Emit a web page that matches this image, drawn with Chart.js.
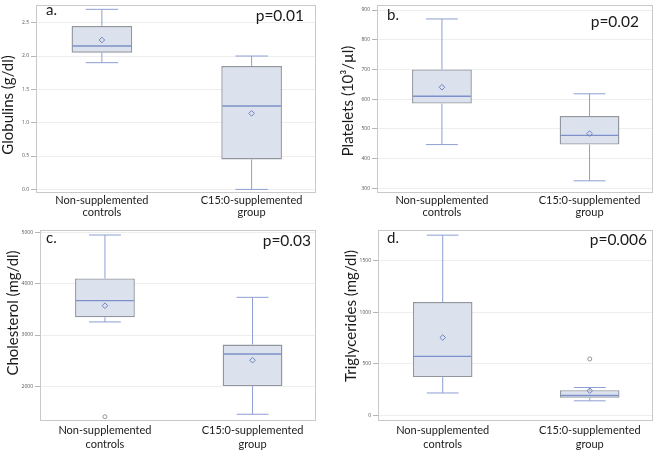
<!DOCTYPE html>
<html><head><meta charset="utf-8">
<script src="https://cdn.jsdelivr.net/npm/chart.js@4.4.1/dist/chart.umd.min.js"></script>
<style>
html,body{margin:0;padding:0;background:#fff;}
#wrap{position:relative;width:658px;height:453px;overflow:hidden;background:#fff;}
canvas{position:absolute;display:block;}
</style></head><body>
<div id="wrap">
<canvas id="ca" width="329" height="225" style="left:0;top:0"></canvas>
<canvas id="cb" width="329" height="225" style="left:329px;top:0"></canvas>
<canvas id="cc" width="329" height="228" style="left:0;top:225px"></canvas>
<canvas id="cd" width="329" height="228" style="left:329px;top:225px"></canvas>
</div>
<script>
const categories = [['Non-supplemented','controls'],['C15:0-supplemented','group']];

// a. Globulins (g/dl)
const globMin  = [1.90, 0.00];
const globQ1   = [2.05, 0.45];
const globMed  = [2.15, 1.25];
const globQ3   = [2.45, 1.85];
const globMax  = [2.70, 2.00];
const globMean = [2.24, 1.14];
const globOut  = [null, null];
const globTicks = [0.0, 0.5, 1.0, 1.5, 2.0, 2.5];

// b. Platelets (10^3/µl)
const platMin  = [447, 325];
const platQ1   = [585, 447];
const platMed  = [610, 478];
const platQ3   = [700, 543];
const platMax  = [870, 618];
const platMean = [640, 484];
const platOut  = [null, null];
const platTicks = [300, 400, 500, 600, 700, 800, 900];

// c. Cholesterol (mg/dl)
const cholMin  = [3255, 1460];
const cholQ1   = [3345, 2008];
const cholMed  = [3670, 2632];
const cholQ3   = [4100, 2815];
const cholMax  = [4945, 3733];
const cholMean = [3570, 2510];
const cholOut  = [1412, null];
const cholTicks = [2000, 3000, 4000, 5000];

// d. Triglycerides (mg/dl)
const trigMin  = [218, 142];
const trigQ1   = [372, 171];
const trigMed  = [573, 193];
const trigQ3   = [1100, 245];
const trigMax  = [1750, 271];
const trigMean = [756, 240];
const trigOut  = [null, 548];
const trigTicks = [0, 500, 1000, 1500];

const FONT = 'Lato, "Open Sans", sans-serif';
const BOX_FRAC = 0.405, CAP_FRAC = 0.216;

function makePanel(c){
  const boxData  = c.q1.map((v,i)=>({x:i, y:[v, c.q3[i]]}));
  const meanData = c.mean.map((v,i)=>({x:i, y:v}));
  const outData  = c.out.map((v,i)=>({x:i, y:v})).filter(p=>p.y!==null);

  const extras = {
    id:'boxExtras',
    afterDatasetDraw(chart, args){
      if(args.index!==0) return;
      const xs = chart.scales.x, ys = chart.scales.y, ctx = chart.ctx;
      const cw = xs.getPixelForValue(1) - xs.getPixelForValue(0);
      ctx.save();
      for(let i=0;i<categories.length;i++){
        const cx = xs.getPixelForValue(i);
        const yMax = ys.getPixelForValue(c.max[i]), yQ3 = ys.getPixelForValue(c.q3[i]);
        const yQ1 = ys.getPixelForValue(c.q1[i]), yMin = ys.getPixelForValue(c.min[i]);
        const yMed = ys.getPixelForValue(c.med[i]);
        const cap = cw*CAP_FRAC/2, bw = cw*BOX_FRAC/2;
        ctx.strokeStyle = '#8d9fd2'; ctx.lineWidth = 1;
        ctx.beginPath();
        ctx.moveTo(cx, yQ3); ctx.lineTo(cx, yMax);
        ctx.moveTo(cx-cap, yMax); ctx.lineTo(cx+cap, yMax);
        ctx.moveTo(cx, yQ1); ctx.lineTo(cx, yMin);
        ctx.moveTo(cx-cap, yMin); ctx.lineTo(cx+cap, yMin);
        ctx.stroke();
        ctx.strokeStyle = '#7d90c9'; ctx.lineWidth = 1.4;
        ctx.beginPath();
        ctx.moveTo(cx-bw+1, yMed); ctx.lineTo(cx+bw-1, yMed);
        ctx.stroke();
      }
      ctx.restore();
    },
    afterDraw(chart){
      const ctx = chart.ctx, a = chart.chartArea;
      ctx.save();
      ctx.strokeStyle = '#c9c9c9'; ctx.lineWidth = 1;
      ctx.strokeRect(Math.round(a.left)+0.5, Math.round(a.top)+0.5, Math.round(a.right-a.left)-1, Math.round(a.bottom-a.top)-1);
      ctx.fillStyle = '#1a1a1a';
      ctx.textBaseline = 'alphabetic';
      ctx.font = '15px ' + FONT;
      ctx.textAlign = 'left';
      ctx.fillText(c.label, c.lx, c.ly);
      ctx.font = '15.5px ' + FONT;
      ctx.textAlign = 'right';
      ctx.fillText(c.p, c.px, c.py);
      // y-axis title
      ctx.translate(c.tx, c.ty);
      ctx.rotate(-Math.PI/2);
      ctx.font = '15px ' + FONT;
      ctx.textAlign = 'center';
      ctx.textBaseline = 'middle';
      ctx.fillText(c.title, 0, 0);
      ctx.restore();
    }
  };

  new Chart(document.getElementById(c.id), {
    type:'bar',
    data:{ datasets:[
      { type:'bar', data:boxData, backgroundColor:'#dbe2ee', borderColor:'#92969e', borderWidth:1.4,
        borderSkipped:false, categoryPercentage:1, barPercentage:BOX_FRAC, order:3 },
      { type:'line', data:meanData, showLine:false, pointStyle:'rectRot', pointRadius:2.8,
        pointBorderColor:'#6f82c2', pointBackgroundColor:'rgba(219,226,238,0)', pointBorderWidth:1, order:2 },
      { type:'line', data:outData, showLine:false, pointStyle:'circle', pointRadius:2,
        pointBorderColor:'#8a8a8a', pointBackgroundColor:'#ffffff', pointBorderWidth:0.9, order:1 }
    ]},
    options:{
      responsive:false, animation:false, devicePixelRatio:1,
      layout:{ padding:{ left:0, right:c.padR, top:c.padT, bottom:0 } },
      plugins:{ legend:{display:false}, tooltip:{enabled:false} },
      scales:{
        x:{ type:'linear', min:-0.44, max:1.43, offset:false,
          afterBuildTicks: s => { s.ticks = categories.map((cat,i)=>({value:i})); },
          afterFit: s => { s.height = c.xH; },
          ticks:{ font:{size:11, family:FONT, lineHeight:c.lh}, color:'#1a1a1a', padding:c.xPad,
            maxRotation:0, minRotation:0, autoSkip:false, callback: v => categories[v] },
          grid:{ display:false, drawTicks:false, offset:false },
          border:{ display:false }
        },
        y:{ type:'linear', min:c.yMin, max:c.yMax,
          afterBuildTicks: s => { s.ticks = c.ticks.map(v=>({value:v})); },
          afterFit: s => { s.width = c.yW; },
          ticks:{ font:{size:5, family:'"Open Sans", sans-serif'}, color:'#555', padding:2, callback: v => c.fmt(v) },
          grid:{ color:'#eeeeee', tickColor:'#b5b5b5', tickLength:5 },
          border:{ display:false },
          title:{ display:false }
        }
      }
    },
    plugins:[extras]
  });
}

makePanel({ id:'ca', min:globMin, q1:globQ1, med:globMed, q3:globQ3, max:globMax, mean:globMean, out:globOut,
  ticks:globTicks, fmt:v=>v.toFixed(1), yMin:-0.054, yMax:2.765, title:'Globulins (g/dl)', tx:8, ty:105,
  label:'a.', lx:46, ly:15, p:'p=0.01', px:304, py:21,
  yW:36, padR:13, padT:1, xH:32, xPad:1, lh:1.1 });

makePanel({ id:'cb', min:platMin, q1:platQ1, med:platMed, q3:platQ3, max:platMax, mean:platMean, out:platOut,
  ticks:platTicks, fmt:v=>String(v), yMin:284, yMax:917, title:'Platelets (10³/µl)', tx:19, ty:101,
  label:'b.', lx:58, ly:20, p:'p=0.02', px:310, py:27,
  yW:48, padR:5, padT:3, xH:32, xPad:1, lh:1.1 });

makePanel({ id:'cc', min:cholMin, q1:cholQ1, med:cholMed, q3:cholQ3, max:cholMax, mean:cholMean, out:cholOut,
  ticks:cholTicks, fmt:v=>String(v), yMin:1329, yMax:5042, title:'Cholesterol (mg/dl)', tx:13, ty:88,
  label:'c.', lx:46, ly:18, p:'p=0.03', px:311, py:21,
  yW:40, padR:13, padT:4, xH:32, xPad:2, lh:1.27 });

makePanel({ id:'cd', min:trigMin, q1:trigQ1, med:trigMed, q3:trigQ3, max:trigMax, mean:trigMean, out:trigOut,
  ticks:trigTicks, fmt:v=>String(v), yMin:-54, yMax:1800, title:'Triglycerides (mg/dl)', tx:22, ty:91,
  label:'d.', lx:58, ly:18, p:'p=0.006', px:318, py:20,
  yW:49, padR:5, padT:1, xH:32, xPad:2, lh:1.27 });
</script>
</body></html>
